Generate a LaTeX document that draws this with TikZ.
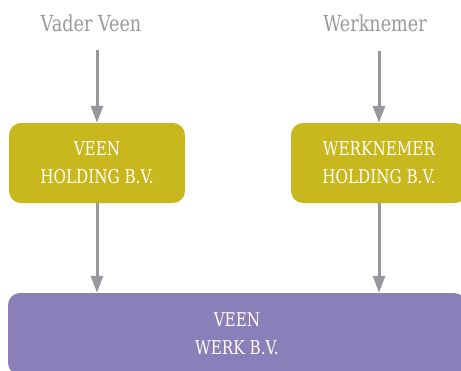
\documentclass[tikz,border=0pt]{standalone}
\usepackage{fontspec}
\setmainfont{DejaVu Serif}[FakeStretch=0.8]
\usetikzlibrary{arrows.meta}
\definecolor{boxyellow}{HTML}{C9B71E}
\definecolor{boxpurple}{HTML}{8A7FB8}
\definecolor{labelgray}{HTML}{9A9A9A}
\definecolor{arrowgray}{HTML}{98979C}
\tikzset{
  toplabel/.style={text=labelgray, font=\fontsize{22}{26}\selectfont, inner sep=0pt},
  holdbox/.style={fill=boxyellow, rounded corners=12pt, minimum width=176pt, minimum height=80pt,
    text=white, align=center, font=\fontsize{19}{28}\selectfont, inner sep=0pt},
  werkbox/.style={fill=boxpurple, rounded corners=12pt, minimum width=458pt, minimum height=82pt,
    text=white, align=center, font=\fontsize{19}{28}\selectfont, inner sep=0pt},
  arr/.style={draw=arrowgray, line width=3pt, -{Triangle[length=17pt,width=12pt]}}
}
\begin{document}
\begin{tikzpicture}[x=1pt,y=-1pt]
\useasboundingbox (0,0) rectangle (461,370);
\node[toplabel] (vv) at (91,23) {Vader Veen};
\node[toplabel] (wn) at (375,23) {Werknemer};
\node[holdbox] (lb) at (97,163) {VEEN\\HOLDING B.V.};
\node[holdbox] (rb) at (379,163) {WERKNEMER\\HOLDING B.V.};
\node[werkbox] (wb) at (237,334) {VEEN\\WERK B.V.};
\draw[arr] (lb.north |- 0,50) coordinate (a1) -- (lb.north);
\draw[arr] (rb.north |- 0,51) coordinate (a2) -- (rb.north);
\draw[arr] (lb.south) -- (lb.south |- wb.north);
\draw[arr] (rb.south) -- (rb.south |- wb.north);
\end{tikzpicture}
\end{document}
